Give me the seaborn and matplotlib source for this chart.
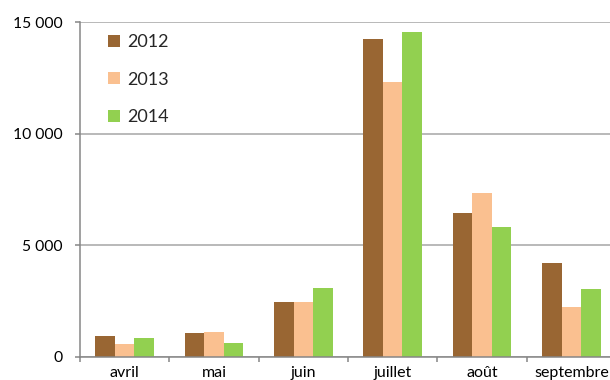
import numpy as np
import pandas as pd
import matplotlib
matplotlib.use("Agg")
import matplotlib.pyplot as plt
from matplotlib.ticker import FuncFormatter
import seaborn as sns

months = ["avril", "mai", "juin", "juillet", "août", "septembre"]
years = ["2012", "2013", "2014"]
values_2012 = [960, 1060, 2480, 14230, 6470, 4190]
values_2013 = [580, 1100, 2460, 12300, 7360, 2240]
values_2014 = [870, 630, 3080, 14550, 5840, 3030]
colors = ["#996633", "#FAC090", "#92D050"]
y_ticks = [0, 5000, 10000, 15000]

df = pd.DataFrame({
    "mois": months * 3,
    "année": [y for y in years for _ in months],
    "valeur": values_2012 + values_2013 + values_2014,
})

sns.set_style("white")
plt.rcParams["font.family"] = ["Lato", "DejaVu Sans"]

px = 1 / 100
fig = plt.figure(figsize=(610 * px, 380 * px), dpi=100)
# axes run slightly past the right edge of the figure
ax = fig.add_axes([80 / 610, 23 / 380, 536 / 610, 335 / 380])

sns.barplot(data=df, x="mois", y="valeur", hue="année", order=months,
            hue_order=years, palette=colors, width=0.66, linewidth=0,
            saturation=1, ax=ax)

grid_c = "#a6a6a6"
axis_c = "#868686"
ax.set_ylim(0, 15000)
ax.set_xlim(-0.5, len(months) - 0.5)
ax.set_yticks(y_ticks)
ax.yaxis.set_major_formatter(FuncFormatter(lambda v, p: f"{int(v):,}".replace(",", " ")))
ax.grid(axis="y", color=grid_c, linewidth=1.1)
ax.set_axisbelow(True)

# category boundary ticks, labels centred on each category
ax.set_xticks(np.arange(-0.5, len(months), 1))
ax.set_xticklabels([])
ax.set_xticks(range(len(months)), minor=True)
ax.set_xticklabels(months, minor=True)
ax.tick_params(axis="x", which="major", length=3.6, width=1.1, color=axis_c,
               direction="out", bottom=True)
ax.tick_params(axis="x", which="minor", length=0, pad=6.5, labelsize=11.5,
               labelcolor="black")
ax.tick_params(axis="y", length=3.6, width=1.1, color=axis_c, direction="out",
               left=True, pad=9, labelsize=11.3, labelcolor="black")

for side in ["top", "right"]:
    ax.spines[side].set_visible(False)
for side in ["left", "bottom"]:
    ax.spines[side].set_color(axis_c)
    ax.spines[side].set_linewidth(1.1)

ax.set_xlabel("")
ax.set_ylabel("")

handles, labels = ax.get_legend_handles_labels()
ax.legend(handles, labels, loc="upper left", frameon=False,
          bbox_to_anchor=(108 / 610, 1 - 34 / 380), bbox_transform=fig.transFigure,
          borderaxespad=0, borderpad=0, fontsize=13,
          handlelength=0.65, handleheight=0.65, handletextpad=0.4,
          labelspacing=1.2)

fig.savefig("out.png", dpi=100)
